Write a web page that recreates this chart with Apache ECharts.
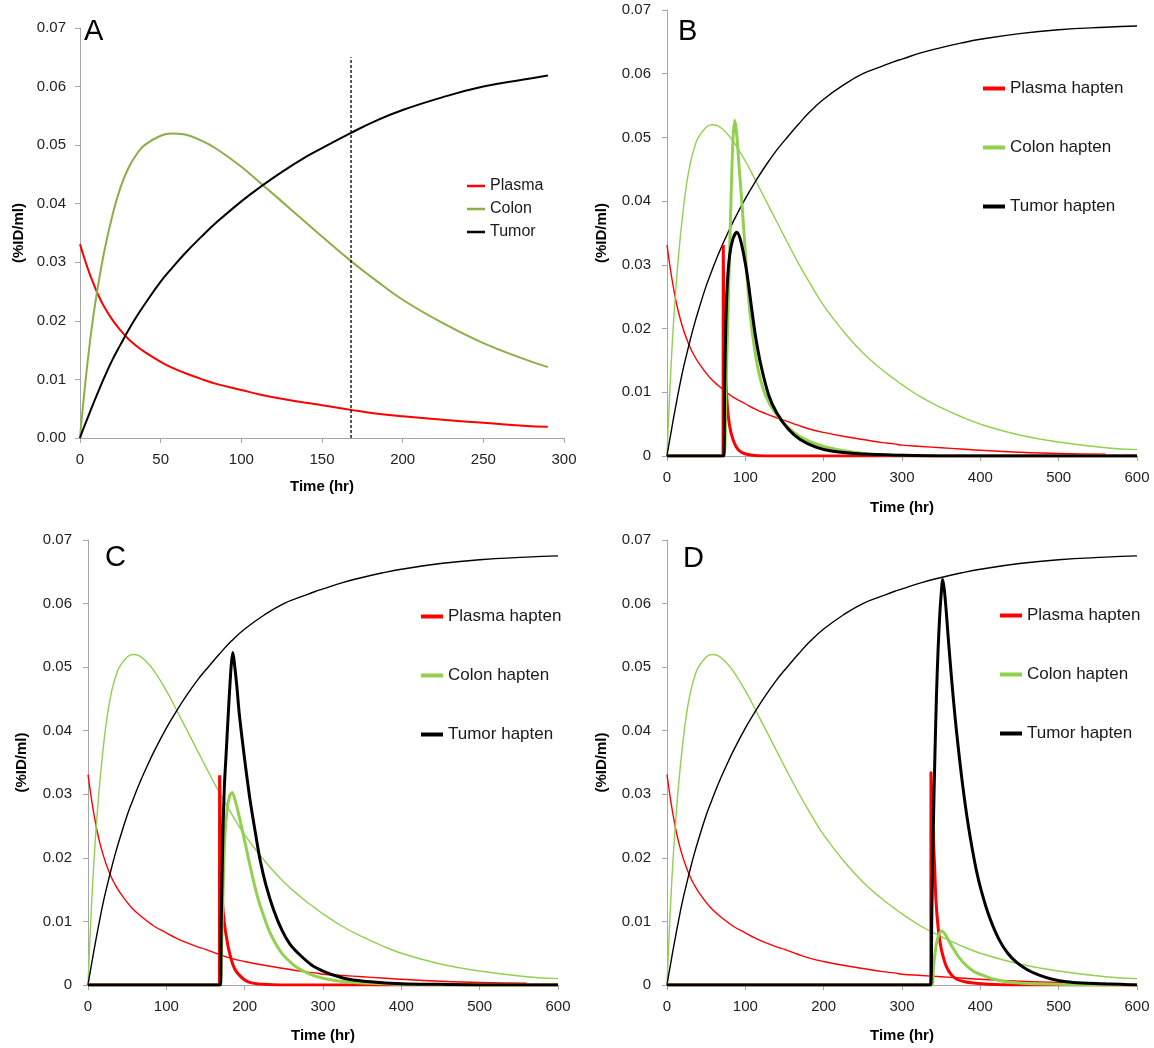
<!DOCTYPE html>
<html>
<head>
<meta charset="utf-8">
<script src="https://cdn.jsdelivr.net/npm/echarts@6/dist/echarts.min.js"></script>
<style>
html,body{margin:0;padding:0;background:#fff;}
#chart{width:1154px;height:1048px;}
</style>
</head>
<body>
<div id="chart"></div>
<script>
// ---------------- DATA ----------------
// Antibody (background) curves, shared by all panels (panel A shows up to 290 h)
const baseTime  = [0,2,5,8,11,15,20,25,30,35,40,50,57,65,75,85,100,112,125,140,150,168,183,200,225,250,275,290,300,325,350,375,400,450,500,560,600];
const plasmaMab = [0.0331,0.0313,0.0288,0.0266,0.0246,0.0224,0.0202,0.0184,0.0169,0.0157,0.0147,0.0130,0.0120,0.0111,0.0101,0.0092,0.0082,0.0074,0.0067,0.0060,0.0056,0.0048,0.0042,0.0037,0.0031,0.0026,0.0021,0.0019,0.0017,0.0015,0.0013,0.0011,0.0009,0.0006,0.0004,0.0003,0.0002];
const colonMab  = [0,0.0059,0.0137,0.0203,0.0257,0.0318,0.0379,0.0427,0.0461,0.0484,0.0500,0.0516,0.0520,0.0518,0.0508,0.0493,0.0463,0.0435,0.0404,0.0368,0.0344,0.0302,0.0270,0.0236,0.0196,0.0162,0.0135,0.0121,0.0112,0.0092,0.0076,0.0062,0.0050,0.0033,0.0022,0.0013,0.0010];
const tumorMab  = [0,0.0015,0.0036,0.0057,0.0077,0.0103,0.0133,0.0159,0.0184,0.0207,0.0228,0.0267,0.0290,0.0315,0.0343,0.0369,0.0404,0.0429,0.0454,0.0480,0.0495,0.0521,0.0541,0.0560,0.0582,0.0600,0.0612,0.0619,0.0623,0.0633,0.0641,0.0648,0.0654,0.0663,0.0669,0.0673,0.0675];

// Panel A reference line (dashed) at 168 h
const markerTime  = [168, 168];
const markerValue = [0, 0.065];

// Hapten curves [time, value]
const hapB_plasma = [[0,0],[60,0],[71.6,0],[71.8,0.0331],[72.5,0.024],[74,0.016],[75.5,0.011],[78,0.0065],[82,0.0035],[88,0.0015],[95,0.0006],[105,0.0002],[125,0],[600,0]];
const hapB_colon  = [[0,0],[60,0],[72.5,0],[75,0.0095],[78,0.023],[81,0.037],[84,0.049],[86.4,0.0527],[89,0.0505],[92,0.0455],[95.8,0.0394],[100,0.032],[105,0.0237],[111,0.0175],[117,0.0132],[124,0.0101],[131,0.0082],[140,0.0065],[150,0.0050],[170,0.0030],[200,0.0015],[250,0.0004],[300,0.0001],[350,0],[600,0]];
const hapB_tumor  = [[0,0],[60,0],[72.5,0],[73.5,0.010],[75,0.020],[77,0.027],[80,0.0315],[84,0.0340],[89,0.0351],[94,0.0338],[100,0.0302],[104,0.027],[108,0.0232],[113,0.0188],[120,0.0142],[130,0.0095],[140,0.0068],[155,0.0042],[170,0.0026],[190,0.0014],[210,0.0008],[250,0.0003],[300,0.0001],[350,0],[600,0]];

const hapC_plasma = [[0,0],[150,0],[167.8,0],[168,0.033],[169,0.025],[170.5,0.018],[172,0.0125],[174,0.0098],[177,0.0073],[180,0.0054],[185,0.0032],[190,0.002],[200,0.0008],[210,0.0003],[225,0.0001],[245,0],[600,0]];
const hapC_colon  = [[0,0],[150,0],[168.5,0],[170,0.004],[171.5,0.010],[173,0.018],[175,0.024],[178,0.028],[181,0.0298],[184,0.0303],[188,0.0290],[193,0.0265],[198,0.0238],[205,0.0198],[212,0.0160],[218,0.0132],[225,0.0106],[231,0.0086],[240,0.0064],[248,0.0049],[260,0.0034],[270,0.0025],[290,0.0014],[315,0.0007],[350,0.0003],[400,0.0001],[450,0],[600,0]];
const hapC_tumor  = [[0,0],[150,0],[169,0],[170,0.009],[171,0.016],[172.2,0.0237],[174,0.031],[176.4,0.0365],[179,0.0425],[181,0.0468],[183,0.0505],[184.9,0.0523],[187,0.0505],[190,0.047],[193,0.0428],[197,0.0385],[201.3,0.0342],[207,0.029],[214,0.0237],[220,0.0195],[227,0.0158],[237,0.0118],[248,0.0085],[258,0.0064],[270,0.0048],[285,0.0032],[300,0.0022],[315,0.0015],[333,0.0009],[360,0.0005],[400,0.0002],[450,0.0001],[500,0],[600,0]];

const hapD_plasma = [[0,0],[320,0],[336.8,0],[337,0.0334],[338.5,0.028],[340,0.0235],[341.8,0.018],[343.5,0.013],[346,0.0092],[348.6,0.0067],[352,0.0047],[357,0.0028],[363,0.0016],[370,0.0009],[380,0.0005],[391,0.0003],[410,0.0001],[440,0],[600,0]];
const hapD_colon  = [[0,0],[320,0],[338,0],[340,0.0025],[342,0.0048],[344,0.0065],[347,0.0079],[350.7,0.0085],[355,0.0080],[360,0.0069],[365.6,0.0057],[373,0.0043],[382.6,0.0030],[392,0.0021],[404,0.0015],[418,0.0009],[433.6,0.0005],[450,0.0003],[470,0.0002],[500,0.0001],[540,0],[600,0]];
const hapD_tumor  = [[0,0],[320,0],[336.6,0],[338,0.011],[340,0.025],[342,0.036],[344,0.0455],[346,0.0525],[348,0.0578],[350,0.0615],[352,0.0638],[354,0.0622],[356,0.0595],[358,0.0563],[360,0.0531],[363,0.0486],[366,0.0444],[370,0.0394],[375,0.0339],[380,0.0290],[385,0.0248],[390,0.0212],[395,0.0180],[400,0.0154],[408,0.0120],[416,0.0093],[425,0.0069],[435,0.0050],[446,0.0036],[460,0.0024],[476,0.0015],[492,0.0009],[510,0.0005],[530,0.0003],[553,0.0002],[580,0.0001],[600,0]];

// Axis ticks
const xMaxA = 300, xStepA = 50;
const xMaxBCD = 600, xStepBCD = 100;
const yMax = 0.07, yStep = 0.01;

// Labels
const panelLetters = ['A','B','C','D'];
const legendA = ['Plasma','Colon','Tumor'];
const legendHapten = ['Plasma hapten','Colon hapten','Tumor hapten'];
const xTitle = 'Time (hr)';
const yTitle = '(%ID/ml)';

// ---------------- CHART ----------------
const FONT = '"Liberation Sans", Arial, Helvetica, sans-serif';
const RED = '#ff0000', GREEN_A = '#8cae47', GREEN = '#92d050', BLACK = '#000000';
const AXIS_C = '#a6a6a6';

function zip(ts, vs, maxT){ return ts.map((t,i)=>[t, vs[i]]).filter(p=>p[0] <= maxT); }

const grids = [
  {left:80,  top:28,  width:484, height:410},
  {left:667, top:10,  width:470, height:446},
  {left:88,  top:540, width:470, height:445},
  {left:667, top:540, width:470, height:445}
];
const yNameGaps = [54, 58, 59, 58];
const xNameGaps = [41, 44, 43, 43];
const yLabelMargins = [14, 16, 16, 16];

const xAxes = grids.map((g,i)=>({
  type:'value', gridIndex:i, min:0,
  max: i===0 ? xMaxA : xMaxBCD, interval: i===0 ? xStepA : xStepBCD,
  name: xTitle, nameLocation:'middle', nameGap: xNameGaps[i],
  nameTextStyle:{fontFamily:FONT, fontSize:15, fontWeight:'bold', color:'#000'},
  axisLine:{show:true, onZero:false, lineStyle:{color:AXIS_C, width:1}},
  axisTick:{show:true, inside:false, length:5, lineStyle:{color:AXIS_C}},
  axisLabel:{fontFamily:FONT, fontSize:15, color:'#222', margin:14},
  splitLine:{show:false}
}));
const yAxes = grids.map((g,i)=>({
  type:'value', gridIndex:i, min:0, max:yMax, interval:yStep,
  name: yTitle, nameLocation:'middle', nameRotate:90, nameGap: yNameGaps[i],
  nameTextStyle:{fontFamily:FONT, fontSize:15, fontWeight:'bold', color:'#000'},
  axisLine:{show:true, lineStyle:{color:AXIS_C, width:1}},
  axisTick:{show:true, inside:false, length:5, lineStyle:{color:AXIS_C}},
  axisLabel:{fontFamily:FONT, fontSize:15, color:'#222', margin:yLabelMargins[i],
    formatter: v => (i===0 ? v.toFixed(2) : (Math.abs(v) < 1e-9 ? '0' : v.toFixed(2)))},
  splitLine:{show:false}
}));

function line(name, data, idx, color, width, smooth){
  return {
    type:'line', name, data, xAxisIndex:idx, yAxisIndex:idx,
    showSymbol:false, symbol:'none', smooth: smooth,
    lineStyle:{color, width}, itemStyle:{color},
    emphasis:{disabled:true}, animation:false
  };
}

const series = [];
// Panel A
series.push(line('Plasma', zip(baseTime, plasmaMab, 290), 0, RED, 2, 0.45));
series.push(line('Colon',  zip(baseTime, colonMab, 290),  0, GREEN_A, 2, 0.45));
series.push(line('Tumor',  zip(baseTime, tumorMab, 290),  0, BLACK, 2, 0.45));
series.push({
  type:'line', name:'168 h', data: markerTime.map((t,i)=>[t, markerValue[i]]),
  xAxisIndex:0, yAxisIndex:0, showSymbol:false, symbol:'none',
  lineStyle:{color:'#000', width:1.3, type:[3,2]}, itemStyle:{color:'#000'}, animation:false
});
// Panels B, C, D
const haptens = [
  [hapB_plasma, hapB_colon, hapB_tumor],
  [hapC_plasma, hapC_colon, hapC_tumor],
  [hapD_plasma, hapD_colon, hapD_tumor]
];
haptens.forEach((h, k) => {
  const idx = k + 1;
  series.push(line('Plasma mAb ' + idx, zip(baseTime, plasmaMab, 560), idx, RED, 1.4, 0.45));
  series.push(line('Colon mAb ' + idx,  zip(baseTime, colonMab, 600),  idx, GREEN, 1.4, 0.45));
  series.push(line('Tumor mAb ' + idx,  zip(baseTime, tumorMab, 600),  idx, BLACK, 1.4, 0.45));
  series.push(line(legendHapten[0], h[0], idx, RED, 3, 0.3));
  series.push(line(legendHapten[1], h[1], idx, GREEN, 3, 0.3));
  series.push(line(legendHapten[2], h[2], idx, BLACK, 3, 0.3));
});

const legTxt = {fontFamily:FONT, fontSize:17, color:'#1a1a1a'};
const legends = [
  {data:legendA, left:467, top:178, padding:0, orient:'vertical', icon:'rect', itemWidth:18, itemHeight:2.5, itemGap:7,
   textStyle:{fontFamily:FONT, fontSize:16, color:'#1a1a1a'}, selectedMode:false},
  {data:legendHapten, left:983, top:80, padding:0, orient:'vertical', icon:'rect', itemWidth:22, itemHeight:4, itemGap:42, textStyle:legTxt, selectedMode:false},
  {data:legendHapten, left:421, top:608, padding:0, orient:'vertical', icon:'rect', itemWidth:22, itemHeight:4, itemGap:42, textStyle:legTxt, selectedMode:false},
  {data:legendHapten, left:1000, top:607, padding:0, orient:'vertical', icon:'rect', itemWidth:22, itemHeight:4, itemGap:42, textStyle:legTxt, selectedMode:false}
];

const letterPos = [[84,17],[678,17],[105,543],[683,544]];
const graphic = panelLetters.map((s,i)=>({
  type:'text', left:letterPos[i][0], top:letterPos[i][1],
  style:{text:s, fontFamily:FONT, fontSize:29, fill:'#000'}
}));

const chart = echarts.init(document.getElementById('chart'), null, {renderer:'canvas'});
chart.setOption({
  backgroundColor:'#fff',
  animation:false,
  grid: grids,
  xAxis: xAxes,
  yAxis: yAxes,
  legend: legends,
  graphic: graphic,
  series: series
});
</script>
</body>
</html>
